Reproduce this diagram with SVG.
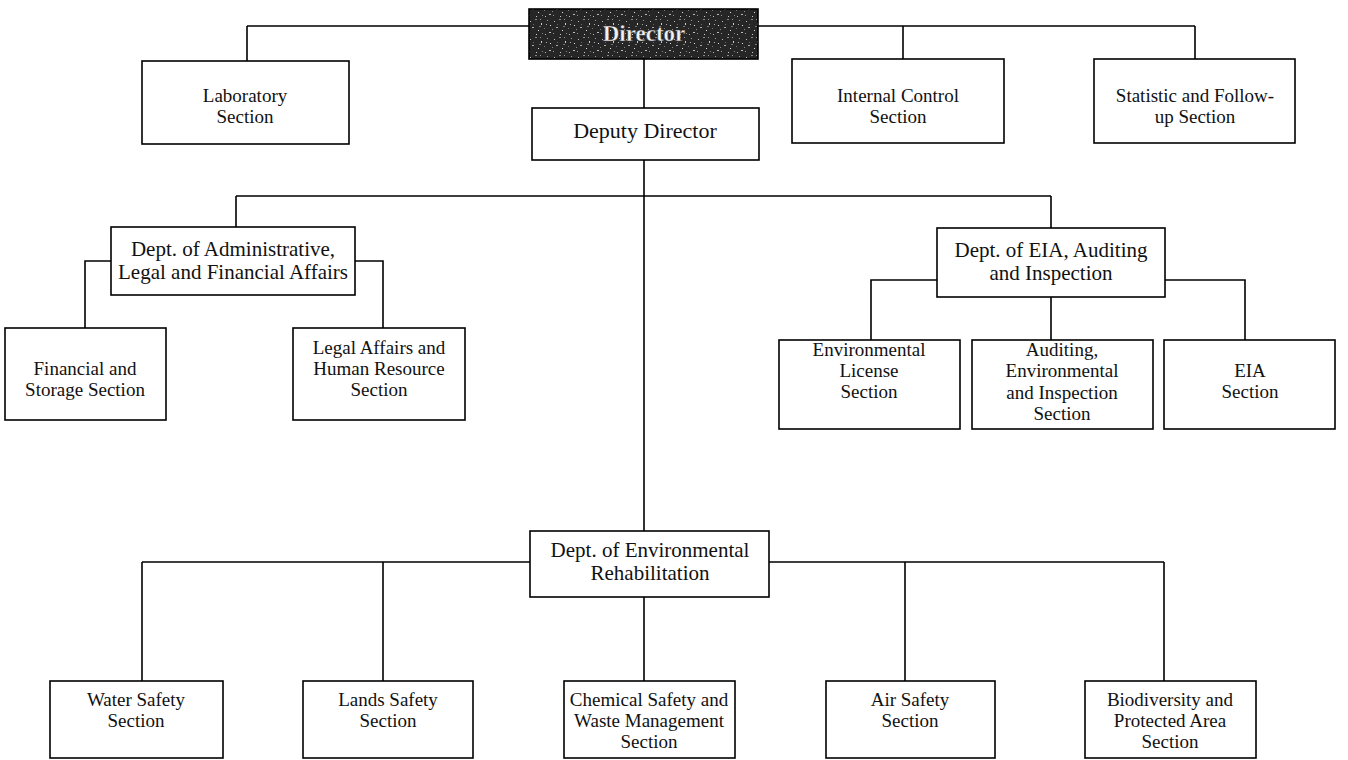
<svg xmlns="http://www.w3.org/2000/svg" width="1348" height="760" viewBox="0 0 1348 760">
<style>
.box{fill:#fff;stroke:#000;stroke-width:1.6}
.ln{fill:none;stroke:#000;stroke-width:1.6}
text{font-family:"Liberation Serif","Times New Roman",serif;fill:#111;text-anchor:middle}
.s{font-size:19px}
.d{font-size:21px}
.dd{font-size:22px}
.dir{font-size:23px;font-weight:bold;fill:#f2f2f2;stroke:#333;stroke-width:0.4}
</style>
<defs>
<pattern id="tex" width="24" height="18" patternUnits="userSpaceOnUse">
<rect width="24" height="18" fill="#262626"/>
<rect x="2" y="3" width="1" height="1" fill="#bbb"/>
<rect x="7" y="1" width="2" height="1" fill="#888"/>
<rect x="13" y="5" width="1" height="2" fill="#ccc"/>
<rect x="19" y="2" width="1" height="1" fill="#999"/>
<rect x="4" y="9" width="2" height="1" fill="#aaa"/>
<rect x="10" y="12" width="1" height="1" fill="#ddd"/>
<rect x="16" y="10" width="1" height="1" fill="#777"/>
<rect x="21" y="14" width="2" height="1" fill="#bbb"/>
<rect x="1" y="15" width="1" height="1" fill="#999"/>
<rect x="8" y="16" width="1" height="1" fill="#ccc"/>
<rect x="14" y="15" width="1" height="1" fill="#888"/>
<rect x="22" y="7" width="1" height="1" fill="#ddd"/>
<rect x="5" y="6" width="1" height="1" fill="#666"/>
<rect x="11" y="8" width="2" height="1" fill="#777"/>
<rect x="18" y="6" width="1" height="1" fill="#aaa"/>
<rect x="0" y="11" width="1" height="1" fill="#888"/>
<rect x="17" y="16" width="1" height="1" fill="#bbb"/>
<rect x="12" y="1" width="1" height="1" fill="#999"/>
</pattern>
</defs>

<g id="connectors">
<path class="ln" d="M247 26H529M758 26H1195M247 26V61M903 26V59M1195 26V59"/>
<path class="ln" d="M644 59V108M644 160V531"/>
<path class="ln" d="M236 196H1051M236 196V227M1051 196V228"/>
<path class="ln" d="M111 261H85V328M355 261H383V328"/>
<path class="ln" d="M937 280H871V340M1051 297V340M1165 280H1245V340"/>
<path class="ln" d="M142 562H530M769 562H1164M142 562V681M383 562V681M905 562V681M1164 562V681M644 597V681"/>
</g>

<g id="director">
<rect x="529" y="9" width="229" height="50" fill="url(#tex)" stroke="#000" stroke-width="1.6"/>
<text class="dir" x="644" y="41">Director</text>
</g>
<g id="laboratory">
<rect class="box" x="142" y="61" width="207" height="83"/>
<text class="s" x="245" y="102">Laboratory</text><text class="s" x="245" y="123">Section</text>
</g>
<g id="internal-control">
<rect class="box" x="792" y="59" width="212" height="84"/>
<text class="s" x="898" y="102">Internal Control</text><text class="s" x="898" y="123">Section</text>
</g>
<g id="statistic">
<rect class="box" x="1094" y="59" width="201" height="84"/>
<text class="s" x="1195" y="102">Statistic and Follow-</text><text class="s" x="1195" y="123">up Section</text>
</g>
<g id="deputy">
<rect class="box" x="532" y="108" width="227" height="52"/>
<text class="dd" x="645" y="138">Deputy Director</text>
</g>
<g id="dept-admin">
<rect class="box" x="111" y="227" width="244" height="68"/>
<text class="d" x="233" y="256">Dept. of Administrative,</text><text class="d" x="233" y="279">Legal and Financial Affairs</text>
</g>
<g id="dept-eia">
<rect class="box" x="937" y="228" width="228" height="69"/>
<text class="d" x="1051" y="257">Dept. of EIA, Auditing</text><text class="d" x="1051" y="280">and Inspection</text>
</g>
<g id="financial">
<rect class="box" x="5" y="328" width="161" height="92"/>
<text class="s" x="85" y="375">Financial and</text><text class="s" x="85" y="396">Storage Section</text>
</g>
<g id="legal">
<rect class="box" x="293" y="328" width="172" height="92"/>
<text class="s" x="379" y="354">Legal Affairs and</text><text class="s" x="379" y="375">Human Resource</text><text class="s" x="379" y="396">Section</text>
</g>
<g id="env-license">
<rect class="box" x="779" y="340" width="181" height="89"/>
<text class="s" x="869" y="356">Environmental</text><text class="s" x="869" y="377">License</text><text class="s" x="869" y="398">Section</text>
</g>
<g id="auditing">
<rect class="box" x="972" y="340" width="181" height="89"/>
<text class="s" x="1062" y="356">Auditing,</text><text class="s" x="1062" y="377">Environmental</text><text class="s" x="1062" y="399">and Inspection</text><text class="s" x="1062" y="420">Section</text>
</g>
<g id="eia-section">
<rect class="box" x="1164" y="340" width="171" height="89"/>
<text class="s" x="1250" y="377">EIA</text><text class="s" x="1250" y="398">Section</text>
</g>
<g id="dept-env-rehab">
<rect class="box" x="530" y="531" width="239" height="66"/>
<text class="d" x="650" y="557">Dept. of Environmental</text><text class="d" x="650" y="580">Rehabilitation</text>
</g>
<g id="water">
<rect class="box" x="50" y="681" width="173" height="77"/>
<text class="s" x="136" y="706">Water Safety</text><text class="s" x="136" y="727">Section</text>
</g>
<g id="lands">
<rect class="box" x="303" y="681" width="170" height="77"/>
<text class="s" x="388" y="706">Lands Safety</text><text class="s" x="388" y="727">Section</text>
</g>
<g id="chemical">
<rect class="box" x="564" y="681" width="171" height="77"/>
<text class="s" x="649" y="706">Chemical Safety and</text><text class="s" x="649" y="727">Waste Management</text><text class="s" x="649" y="748">Section</text>
</g>
<g id="air">
<rect class="box" x="826" y="681" width="169" height="77"/>
<text class="s" x="910" y="706">Air Safety</text><text class="s" x="910" y="727">Section</text>
</g>
<g id="biodiversity">
<rect class="box" x="1085" y="681" width="171" height="77"/>
<text class="s" x="1170" y="706">Biodiversity and</text><text class="s" x="1170" y="727">Protected Area</text><text class="s" x="1170" y="748">Section</text>
</g>
</svg>
